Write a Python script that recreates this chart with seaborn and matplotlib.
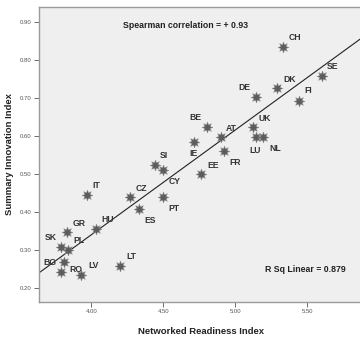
import matplotlib
matplotlib.use("Agg")
import matplotlib.pyplot as plt
import seaborn as sns
import pandas as pd

countries = ["CH", "SE", "DK", "DE", "FI", "UK", "BE", "AT", "LU", "NL", "IE", "FR",
             "EE", "SI", "CY", "PT", "CZ", "ES", "IT", "GR", "HU", "SK", "PL", "BG",
             "RO", "LV", "LT"]
nri = [5.33, 5.60, 5.29, 5.14, 5.44, 5.12, 4.80, 4.90, 5.14, 5.19, 4.71, 4.92,
       4.76, 4.44, 4.50, 4.50, 4.27, 4.33, 3.97, 3.83, 4.03, 3.79, 3.84, 3.81,
       3.79, 3.93, 4.20]
sii = [0.833, 0.756, 0.725, 0.701, 0.692, 0.622, 0.623, 0.598, 0.596, 0.598, 0.584, 0.560,
       0.499, 0.524, 0.511, 0.440, 0.439, 0.408, 0.443, 0.346, 0.354, 0.307, 0.300, 0.267,
       0.242, 0.232, 0.258]
x_ticks = [4.0, 4.5, 5.0, 5.5]
y_ticks = [0.2, 0.3, 0.4, 0.5, 0.6, 0.7, 0.8, 0.9]

# label offsets in pixels (layout only)
label_offsets = {
    "CH": (12, -10), "SE": (11, -10), "DK": (12, -9), "DE": (-11, -10), "FI": (9, -10),
    "UK": (12, -9), "BE": (-11, -10), "AT": (10, -8), "LU": (0, 13), "NL": (12, 12),
    "IE": (0, 12), "FR": (11, 12), "EE": (12, -9), "SI": (9, -9), "CY": (11, 12),
    "PT": (11, 12), "CZ": (11, -8.5), "ES": (11, 12), "IT": (9, -10), "GR": (12, -9),
    "HU": (12, -9.5), "SK": (-10, -10), "PL": (11, -9), "BG": (-14, 0), "RO": (15, -2),
    "LV": (12, -10), "LT": (11, -9),
}

df = pd.DataFrame({"country": countries, "nri": nri, "sii": sii})

sns.set_style("white")
plt.rcParams["font.family"] = ["Liberation Sans", "DejaVu Sans"]

fig = plt.figure(figsize=(3.6, 3.37), dpi=100)
ax = fig.add_axes([39 / 360, 1 - 301.7 / 337, 1 - 39 / 360 + 0.01, (301.7 - 7) / 337])
ax.set_facecolor("#efefef")
ax.set_xlim(3.637, 5.89)
ax.set_ylim(0.163, 0.939)

sns.regplot(data=df, x="nri", y="sii", ax=ax, ci=None, truncate=False, scatter=False,
            line_kws={"color": "#222222", "lw": 0.8})
sns.scatterplot(data=df, x="nri", y="sii", ax=ax, marker=(8, 1, 0), s=60,
                color="#5c5c5c", edgecolor="#8a8a8a", linewidth=0.4, zorder=3, legend=False)

for c, xv, yv in zip(countries, nri, sii):
    dx, dy = label_offsets[c]
    ax.annotate(c, (xv, yv), xytext=(dx * 0.72, -dy * 0.72), textcoords="offset points",
                ha="center", va="center", fontsize=6.2, fontweight="bold", color="#333333")

ax.annotate("Spearman correlation = + 0.93", xy=(185.7 / 360, 1 - 25 / 337),
            xycoords="figure fraction", ha="center", va="center",
            fontsize=6.3, fontweight="bold", color="#222222")
ax.annotate("R Sq Linear = 0.879", xy=(305 / 360, 1 - 270 / 337),
            xycoords="figure fraction", ha="center", va="center",
            fontsize=6.3, fontweight="bold", color="#222222")

ax.set_xticks(x_ticks)
ax.set_xticklabels([f"{v:.2f}" for v in x_ticks])
ax.set_yticks(y_ticks)
ax.set_yticklabels([f"{v:.2f}" for v in y_ticks])
ax.tick_params(axis="both", direction="out", length=3.5, width=0.6, color="#555555",
               labelsize=4.3, labelcolor="#555555", pad=2, bottom=True, left=True)
ax.set_xlabel("Networked Readiness Index", fontsize=6.8, fontweight="bold",
              color="#222222", labelpad=9)
ax.set_ylabel("Summary Innovation Index", fontsize=6.8, fontweight="bold",
              color="#222222", labelpad=4)
for side in ["left", "bottom", "top"]:
    ax.spines[side].set_color("#9a9a9a")
    ax.spines[side].set_linewidth(1.0)
ax.spines["right"].set_visible(False)

fig.savefig("out.png", dpi=100, facecolor="white")
